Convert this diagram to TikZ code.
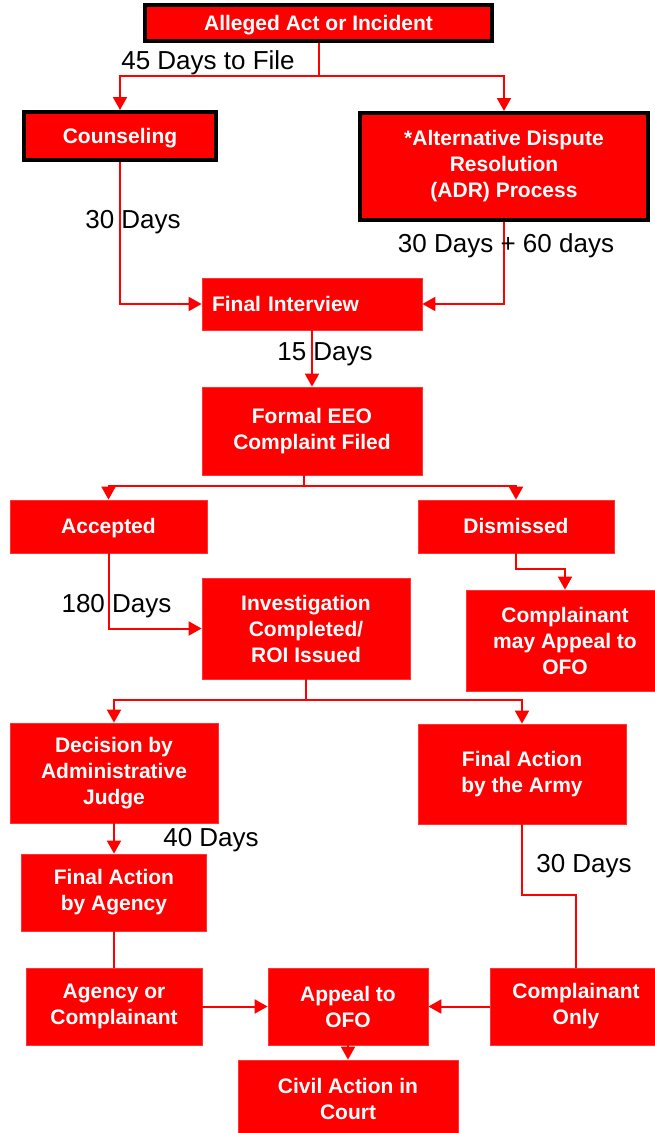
\documentclass[tikz,border=0pt]{standalone}
\usepackage{fontspec}
\setmainfont{Liberation Sans}
\usetikzlibrary{positioning}
\usetikzlibrary{calc, arrows.meta}
\definecolor{eeored}{RGB}{255,0,0}
\tikzset{
  box/.style={fill=eeored,draw=eeored!80!white,line width=0.8pt,text=white,align=center,inner sep=0pt,
    font=\fontsize{21}{26}\selectfont\bfseries},
  framed/.style={box,draw=black,line width=4pt},
  oneline/.style={text height=17pt,text depth=3pt},
  flow/.style={draw=eeored,line width=2pt},
  arr/.style={flow,-{Triangle[length=13pt,width=14pt]}},
  days/.style={font=\fontsize{26}{30}\selectfont,inner sep=0pt}
}
\begin{document}
\begin{tikzpicture}[x=1pt,y=-1pt]
      \useasboundingbox (0,0) rectangle (655,1133);

      \node[framed,oneline,minimum width=347pt,minimum height=36pt] (alleged) at (318.5,23) {Alleged Act or Incident};
      \node[framed,oneline,minimum width=192pt,minimum height=48pt] (couns) at (120,136) {Counseling};
      \node[framed,minimum width=288pt,minimum height=107pt] (adr) at (504,166.5) {*Alternative Dispute\\Resolution\\(ADR) Process};
      \node[box,oneline,minimum width=220pt,minimum height=52pt,text width=200pt,align=left] (final) at (312,304) {Final Interview};
      \node[box,minimum width=220pt,minimum height=88pt] (formal) at (312,431) {Formal EEO\\Complaint Filed};
      \node[box,oneline,minimum width=197pt,minimum height=53pt] (accepted) at (108.5,526.5) {Accepted};
      \node[box,oneline,minimum width=196pt,minimum height=53pt] (dismissed) at (516,526.5) {Dismissed};
      \node[box,minimum width=208pt,minimum height=101pt] (invest) at (306,628.5) {Investigation\\Completed/\\ROI Issued};
      \node[box,minimum width=198pt,minimum height=101pt] (mayappeal) at (565,640.5) {Complainant\\may Appeal to\\OFO};
      \node[box,minimum width=208pt,minimum height=100pt] (decision) at (114,773) {Decision by\\Administrative\\Judge};
      \node[box,minimum width=208pt,minimum height=100pt] (army) at (522,774) {Final Action\\by the Army};
      \node[box,minimum width=185pt,minimum height=77pt] (agency) at (114,892.5) {Final Action\\by Agency};
      \node[box,minimum width=176pt,minimum height=77pt] (agcomp) at (114,1006.5) {Agency or\\Complainant};
      \node[box,minimum width=160pt,minimum height=77pt] (appeal) at (348,1006.5) {Appeal to\\OFO};
      \node[box,minimum width=172pt,minimum height=77pt] (componly) at (576,1006.5) {Complainant\\Only};
      \node[box,minimum width=220pt,minimum height=78pt] (civil) at (348,1099) {Civil Action in\\Court};

      \coordinate (split1) at (318.5,76);
      \coordinate (split2) at (304,486);
      \coordinate (split3) at (306,700);
      \coordinate (bend1) at (565,569);
      \coordinate (bend2) at (576,895);

      \draw[flow] (alleged) -- (split1);
      \draw[arr] (split1) -| (couns);
      \draw[arr] (split1) -| (adr);
      \draw[arr] (couns) |- (final);
      \draw[arr] (adr) |- (final);
      \draw[arr] (final) -- (formal);
      \draw[flow] (formal.south -| split2) -- (split2);
      \draw[arr] (split2) -| (accepted);
      \draw[arr] (split2) -| (dismissed);
      \draw[arr] (accepted) |- (invest);
      \draw[arr] (dismissed) |- (bend1) -- (mayappeal);
      \draw[flow] (invest) -- (split3);
      \draw[arr] (split3) -| (decision);
      \draw[arr] (split3) -| (army);
      \draw[arr] (decision) -- (agency);
      \draw[flow] (agency) -- (agcomp);
      \draw[arr] (agcomp) -- (appeal);
      \draw[arr] (componly) -- (appeal);
      \draw[flow] (army) |- (bend2) -- (componly);
      \draw[arr] (appeal) -- (civil);

      \node[days] (lblfile) at (208,63) {45 Days to File};
      \node[days] (lblcouns) at (133,222) {30 Days};
      \node[days] (lbladr) at (506,246) {30 Days + 60 days};
      \node[days] (lblfinal) at (325,354) {15 Days};
      \node[days] (lblaccepted) at (116.5,606) {180 Days};
      \node[days] (lbldecision) at (211,840) {40 Days};
      \node[days] (lblarmy) at (584,866) {30 Days};
\end{tikzpicture}
\end{document}
